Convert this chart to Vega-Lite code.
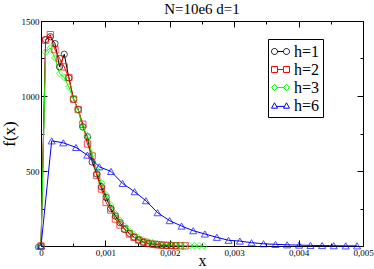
{
  "$schema": "https://vega.github.io/schema/vega-lite/v6.json",
  "width": 322,
  "height": 225,
  "autosize": "none",
  "padding": {"left": 41, "top": 21, "right": 11, "bottom": 23},
  "title": {"text": "N=10e6  d=1", "font": "Liberation Serif", "fontSize": 15, "fontWeight": "normal", "color": "black", "offset": 0, "anchor": "middle"},
  "config": {"view": {"stroke": "black", "strokeWidth": 1}, "font": "Liberation Serif", "legend": {"labelFont": "Liberation Serif"}, "axis": {"labelFont": "Liberation Serif", "titleFont": "Liberation Serif"}},
  "data": {"values": [
    {"h":"h=1","x":0,"y":0},{"h":"h=1","x":0.000072,"y":1376},{"h":"h=1","x":0.000144,"y":1395},{"h":"h=1","x":0.000217,"y":1349},{"h":"h=1","x":0.000289,"y":1194},{"h":"h=1","x":0.000361,"y":1278},{"h":"h=1","x":0.000433,"y":1121},{"h":"h=1","x":0.000505,"y":979},{"h":"h=1","x":0.000578,"y":910},{"h":"h=1","x":0.00065,"y":794},{"h":"h=1","x":0.000722,"y":728},{"h":"h=1","x":0.000794,"y":560},{"h":"h=1","x":0.000866,"y":480},{"h":"h=1","x":0.000939,"y":395},{"h":"h=1","x":0.001011,"y":324},{"h":"h=1","x":0.001083,"y":250},{"h":"h=1","x":0.001155,"y":200},{"h":"h=1","x":0.001227,"y":155},{"h":"h=1","x":0.0013,"y":110},{"h":"h=1","x":0.001372,"y":85},{"h":"h=1","x":0.001444,"y":60},{"h":"h=1","x":0.001516,"y":40},{"h":"h=1","x":0.001588,"y":25},{"h":"h=1","x":0.001661,"y":18},{"h":"h=1","x":0.001733,"y":12},{"h":"h=1","x":0.001805,"y":8},{"h":"h=1","x":0.001877,"y":5},{"h":"h=1","x":0.001949,"y":3},{"h":"h=1","x":0.002022,"y":2},{"h":"h=1","x":0.002094,"y":1},
    {"h":"h=2","x":0,"y":0},{"h":"h=2","x":0.000072,"y":1372},{"h":"h=2","x":0.000144,"y":1409},{"h":"h=2","x":0.000217,"y":1309},{"h":"h=2","x":0.000289,"y":1249},{"h":"h=2","x":0.000361,"y":1194},{"h":"h=2","x":0.000433,"y":1123},{"h":"h=2","x":0.000505,"y":979},{"h":"h=2","x":0.000578,"y":910},{"h":"h=2","x":0.00065,"y":812},{"h":"h=2","x":0.000722,"y":680},{"h":"h=2","x":0.000794,"y":600},{"h":"h=2","x":0.000866,"y":470},{"h":"h=2","x":0.000939,"y":380},{"h":"h=2","x":0.001011,"y":290},{"h":"h=2","x":0.001083,"y":240},{"h":"h=2","x":0.001155,"y":180},{"h":"h=2","x":0.001227,"y":140},{"h":"h=2","x":0.0013,"y":115},{"h":"h=2","x":0.001372,"y":80},{"h":"h=2","x":0.001444,"y":58},{"h":"h=2","x":0.001516,"y":40},{"h":"h=2","x":0.001588,"y":28},{"h":"h=2","x":0.001661,"y":18},{"h":"h=2","x":0.001733,"y":13},{"h":"h=2","x":0.001805,"y":9},{"h":"h=2","x":0.001877,"y":6},{"h":"h=2","x":0.001949,"y":4},{"h":"h=2","x":0.002022,"y":3},{"h":"h=2","x":0.002094,"y":2},{"h":"h=2","x":0.002166,"y":1},{"h":"h=2","x":0.002238,"y":1},
    {"h":"h=3","x":0,"y":0},{"h":"h=3","x":0.000072,"y":1294},{"h":"h=3","x":0.000144,"y":1320},{"h":"h=3","x":0.000217,"y":1254},{"h":"h=3","x":0.000289,"y":1150},{"h":"h=3","x":0.000361,"y":1123},{"h":"h=3","x":0.000433,"y":1060},{"h":"h=3","x":0.000505,"y":979},{"h":"h=3","x":0.000578,"y":905},{"h":"h=3","x":0.00065,"y":788},{"h":"h=3","x":0.000722,"y":735},{"h":"h=3","x":0.000794,"y":612},{"h":"h=3","x":0.000866,"y":505},{"h":"h=3","x":0.000939,"y":420},{"h":"h=3","x":0.001011,"y":340},{"h":"h=3","x":0.001083,"y":275},{"h":"h=3","x":0.001155,"y":215},{"h":"h=3","x":0.001227,"y":170},{"h":"h=3","x":0.0013,"y":130},{"h":"h=3","x":0.001372,"y":100},{"h":"h=3","x":0.001444,"y":75},{"h":"h=3","x":0.001516,"y":55},{"h":"h=3","x":0.001588,"y":40},{"h":"h=3","x":0.001661,"y":30},{"h":"h=3","x":0.001733,"y":22},{"h":"h=3","x":0.001805,"y":16},{"h":"h=3","x":0.001877,"y":12},{"h":"h=3","x":0.001949,"y":9},{"h":"h=3","x":0.002022,"y":7},{"h":"h=3","x":0.002094,"y":5},{"h":"h=3","x":0.002166,"y":4},{"h":"h=3","x":0.002238,"y":3},{"h":"h=3","x":0.00231,"y":2},{"h":"h=3","x":0.002383,"y":2},{"h":"h=3","x":0.002455,"y":1},{"h":"h=3","x":0.002527,"y":1},
    {"h":"h=6","x":0,"y":0},{"h":"h=6","x":0.000166,"y":701},{"h":"h=6","x":0.000346,"y":688},{"h":"h=6","x":0.000543,"y":657},{"h":"h=6","x":0.000719,"y":606},{"h":"h=6","x":0.000905,"y":528},{"h":"h=6","x":0.001087,"y":497},{"h":"h=6","x":0.001267,"y":417},{"h":"h=6","x":0.001453,"y":362},{"h":"h=6","x":0.001629,"y":302},{"h":"h=6","x":0.00181,"y":222},{"h":"h=6","x":0.001997,"y":169},{"h":"h=6","x":0.002183,"y":133},{"h":"h=6","x":0.002364,"y":102},{"h":"h=6","x":0.002545,"y":80},{"h":"h=6","x":0.002731,"y":58},{"h":"h=6","x":0.002912,"y":38},{"h":"h=6","x":0.003088,"y":33},{"h":"h=6","x":0.003269,"y":22},{"h":"h=6","x":0.003455,"y":15},{"h":"h=6","x":0.003641,"y":11},{"h":"h=6","x":0.003822,"y":8},{"h":"h=6","x":0.004008,"y":6},{"h":"h=6","x":0.004184,"y":4},{"h":"h=6","x":0.004365,"y":3},{"h":"h=6","x":0.004546,"y":2},{"h":"h=6","x":0.004732,"y":1},{"h":"h=6","x":0.004908,"y":1}
  ]},
  "layer": [
    {
      "mark": {"type": "line", "strokeWidth": 1},
      "encoding": {
        "x": {"field": "x", "type": "quantitative", "scale": {"domain": [0, 0.005], "nice": false, "zero": false},
          "axis": {"orient": "bottom", "values": [0, 0.001, 0.002, 0.003, 0.004, 0.005], "tickSize": -6, "tickColor": "black", "labelPadding": 8, "labelFont": "Liberation Serif", "labelFontSize": 9, "labelColor": "black", "labelFlush": false, "labelOverlap": false, "labelExpr": "datum.value == 0 ? '0' : replace(format(datum.value, '.3f'), '.', ',')", "domain": false, "grid": false, "title": "x", "titleFont": "Liberation Serif", "titleFontSize": 16, "titleFontWeight": "normal", "titleColor": "black", "titlePadding": -5}},
        "y": {"field": "y", "type": "quantitative", "scale": {"domain": [0, 1500], "nice": false},
          "axis": {"orient": "left", "values": [0, 500, 1000, 1500], "format": "d", "tickSize": -6, "tickColor": "black", "labelPadding": 8, "labelFont": "Liberation Serif", "labelFontSize": 9, "labelColor": "black", "labelFlush": false, "domain": false, "grid": false, "title": "f(x)", "titleFont": "Liberation Serif", "titleFontSize": 17, "titleFontWeight": "normal", "titleColor": "black", "titlePadding": 3}},
        "color": {"field": "h", "type": "nominal", "scale": {"domain": ["h=1", "h=2", "h=3", "h=6"], "range": ["#000000", "#ff0000", "#00ff00", "#0000ff"]},
          "legend": {"orient": "none", "legendX": 227, "legendY": 18, "title": null, "strokeColor": "black", "fillColor": "white", "padding": 3, "labelFont": "Liberation Serif", "labelFontSize": 16, "labelColor": "black", "labelOffset": 4, "symbolSize": 324, "symbolStrokeWidth": 1, "rowPadding": -2,
            "encode": {"symbols": {"update": {"fill": {"value": "transparent"}, "shape": {"signal": "datum.value === 'h=1' ? 'M-0.33,0A0.33,0.33 0 1,1 -1,0A0.33,0.33 0 1,1 -0.33,0L0.33,0A0.33,0.33 0 1,1 1,0A0.33,0.33 0 1,1 0.33,0' : datum.value === 'h=2' ? 'M-1,-0.33H-0.33V0.33H-1ZM-0.33,0H0.33M0.33,-0.33H1V0.33H0.33Z' : datum.value === 'h=3' ? 'M-1,0L-0.67,-0.36L-0.33,0L-0.67,0.36ZM-0.33,0H0.33M0.33,0L0.67,-0.36L1,0L0.67,0.36Z' : 'M-1,0.3L-0.67,-0.3L-0.33,0.3ZM-0.45,0.1H0.45M0.33,0.3L0.67,-0.3L1,0.3Z'"}}}}}}
      }
    },
    {
      "encoding": {
        "x": {"field": "x", "type": "quantitative", "axis": {"orient": "top", "values": [0, 0.001, 0.002, 0.003, 0.004, 0.005], "tickSize": -6, "tickColor": "black", "labels": false, "domain": false, "grid": false, "title": null}},
        "y": {"field": "y", "type": "quantitative", "axis": {"orient": "right", "values": [0, 500, 1000, 1500], "tickSize": -6, "tickColor": "black", "labels": false, "domain": false, "grid": false, "title": null}},
        "color": {"field": "h", "type": "nominal"}
      },
      "layer": [
        {"transform": [{"filter": "datum.h === 'h=1'"}], "mark": {"type": "point", "shape": "circle", "filled": false, "strokeWidth": 1, "size": 40}},
        {"transform": [{"filter": "datum.h === 'h=2'"}], "mark": {"type": "point", "shape": "square", "filled": false, "strokeWidth": 1, "size": 40}},
        {"transform": [{"filter": "datum.h === 'h=3'"}], "mark": {"type": "point", "shape": "diamond", "filled": false, "strokeWidth": 1, "size": 45}},
        {"transform": [{"filter": "datum.h === 'h=6'"}], "mark": {"type": "point", "shape": "triangle-up", "filled": false, "strokeWidth": 1, "size": 50}}
      ]
    },
    {
      "mark": {"type": "point", "opacity": 0},
      "encoding": {
        "x": {"field": "x", "type": "quantitative", "axis": {"orient": "bottom", "values": [0.0005, 0.0015, 0.0025, 0.0035, 0.0045], "tickSize": -3, "tickColor": "black", "labels": false, "domain": false, "grid": false, "title": null}},
        "y": {"field": "y", "type": "quantitative", "axis": {"orient": "left", "values": [250, 750, 1250], "tickSize": -3, "tickColor": "black", "labels": false, "domain": false, "grid": false, "title": null}}
      }
    },
    {
      "mark": {"type": "point", "opacity": 0},
      "encoding": {
        "x": {"field": "x", "type": "quantitative", "axis": {"orient": "top", "values": [0.0005, 0.0015, 0.0025, 0.0035, 0.0045], "tickSize": -3, "tickColor": "black", "labels": false, "domain": false, "grid": false, "title": null}},
        "y": {"field": "y", "type": "quantitative", "axis": {"orient": "right", "values": [250, 750, 1250], "tickSize": -3, "tickColor": "black", "labels": false, "domain": false, "grid": false, "title": null}}
      }
    }
  ],
  "resolve": {"axis": {"x": "independent", "y": "independent"}}
}
